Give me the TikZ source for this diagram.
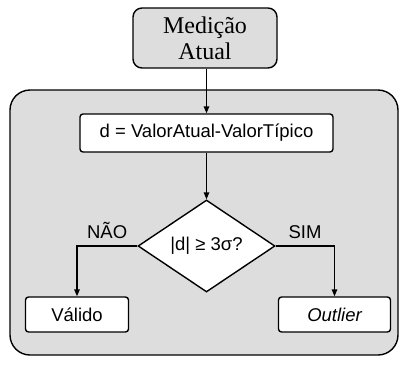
\documentclass[tikz,border=0pt]{standalone}
\usepackage{fontspec}
\setmainfont{Liberation Serif}
\setsansfont{Liberation Sans}
\usepackage{tikz}
\usetikzlibrary{shapes,arrows.meta}
\usetikzlibrary{positioning}
\definecolor{fundo}{RGB}{221,221,221}
\tikzset{
    caixa/.style={
        ,   draw
        ,   fill=white
        ,   rounded corners=3pt
        ,   font={\sffamily\fontsize{18.5}{22}\selectfont}
    },
    decisao/.style={
        ,   diamond
        ,   draw
        ,   fill=white
        ,   inner sep=0pt
        ,   minimum width=137pt
        ,   minimum height=92pt
        ,   font={\sffamily\fontsize{18.5}{22}\selectfont}
    },
    seta/.style={
        ,   -{Triangle[length=7pt,width=5.5pt]}
    },
    rotulo/.style={
        ,   font={\sffamily\fontsize{18.5}{22}\selectfont}
        ,   inner sep=6.5pt
    }
}

\begin{document}
\begin{tikzpicture}[x=1pt, y=-1pt, line width=1.4pt]
    \useasboundingbox (0,0) rectangle (400,365);
    % bloco de fundo
    \draw[fill=fundo, rounded corners=20pt] (10,90) rectangle (398,355);
    
    % entrada
    \node[draw, fill=fundo, rounded corners=9pt, minimum width=144pt, minimum height=60pt,
          align=center, font={\fontsize{24}{26}\selectfont}] (medicao) at (205,38) {Medição\\Atual};
    
    \node[caixa, minimum width=253pt, minimum height=38pt] (diff) at (206.5,133) {d = ValorAtual-ValorTípico};
    \node[decisao] (teste) at (206.5,246) {|d| ≥ 3σ?};
    \node[caixa, minimum width=103pt, minimum height=35pt] (valido) at (77,314.5) {Válido};
    \node[caixa, minimum width=112pt, minimum height=35pt] (outlier) at (334.5,314.5) {\itshape Outlier};
    
    % ligacoes
    \draw[seta] (medicao.south -| diff.north) -- (diff.north);
    \draw[seta] (diff.south) -- (teste.north);
    \draw[seta] (teste.west) -| node[rotulo, pos=0.25, above] {NÃO} (valido.north);
    \draw[seta] (teste.east) -| node[rotulo, pos=0.25, above] {SIM} (outlier.north);
\end{tikzpicture}
\end{document}
